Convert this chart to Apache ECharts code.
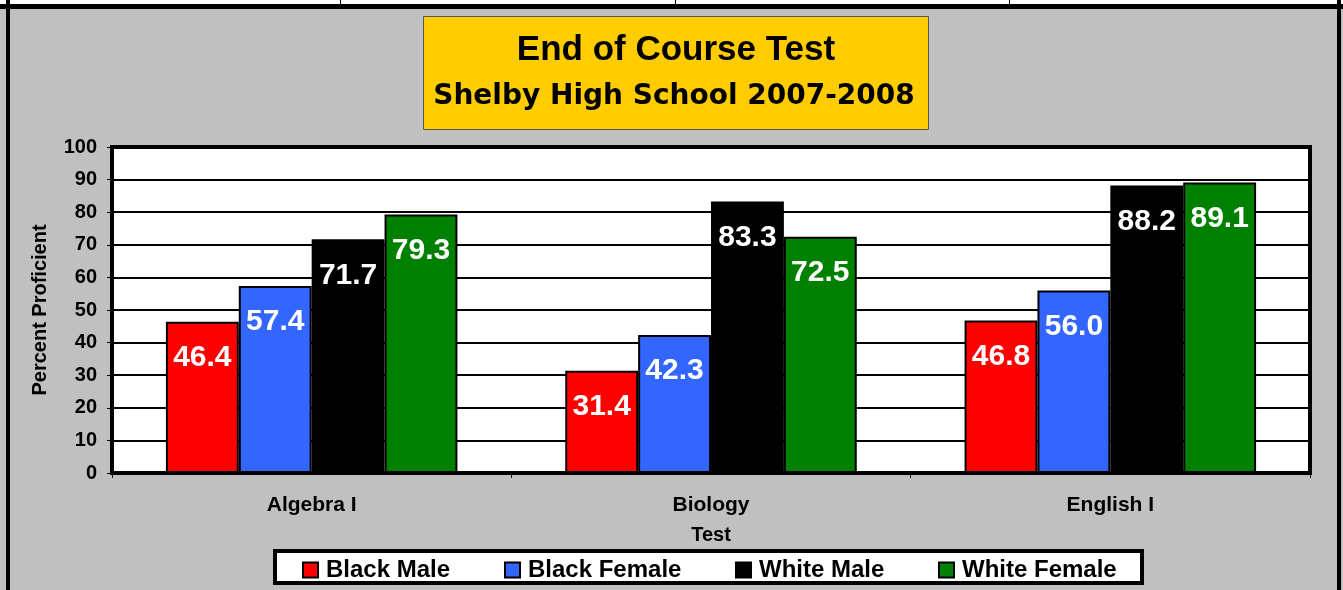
<!DOCTYPE html>
<html>
<head>
<meta charset="utf-8">
<script src="https://cdn.jsdelivr.net/npm/echarts@6/dist/echarts.min.js"></script>
<style>html,body{margin:0;padding:0;background:#fff;}#c{width:1343px;height:590px;}</style>
</head>
<body>
<div id="c"></div>
<script>
const categories = ['Algebra I', 'Biology', 'English I'];
const blackMale = [46.4, 31.4, 46.8];
const blackFemale = [57.4, 42.3, 56.0];
const whiteMale = [71.7, 83.3, 88.2];
const whiteFemale = [79.3, 72.5, 89.1];
const seriesNames = ['Black Male', 'Black Female', 'White Male', 'White Female'];
const seriesColors = ['#FF0000', '#3366FF', '#000000', '#008000'];
const seriesData = [blackMale, blackFemale, whiteMale, whiteFemale];

const FONT = '"Liberation Sans", Arial, sans-serif';
const chart = echarts.init(document.getElementById('c'), null, {renderer: 'canvas'});

const legendLefts = [302, 504, 735, 938];

const option = {
  backgroundColor: '#C0C0C0',
  animation: false,
  title: [
    {text: 'End of Course Test', left: 676, top: 50, textAlign: 'center', textVerticalAlign: 'middle', padding: 0,
     textStyle: {fontFamily: FONT, fontWeight: 'bold', fontSize: 35, color: '#000'}},
    {text: 'Shelby High School 2007-2008', left: 674, top: 97, textAlign: 'center', textVerticalAlign: 'middle', padding: 0,
     textStyle: {fontFamily: '"Comic Sans MS", "DejaVu Sans", sans-serif', fontWeight: 'bold', fontSize: 28, color: '#000'}}
  ],
  graphic: [
    {type: 'rect', z: 0, shape: {x: 0, y: 0, width: 1343, height: 4}, style: {fill: '#fff'}},
    {type: 'rect', z: 0, shape: {x: 0, y: 4, width: 1343, height: 5}, style: {fill: '#000'}},
    {type: 'rect', z: 0, shape: {x: 6, y: 0, width: 4, height: 590}, style: {fill: '#000'}},
    {type: 'rect', z: 0, shape: {x: 1337, y: 0, width: 4, height: 590}, style: {fill: '#000'}},
    {type: 'rect', z: 0, shape: {x: 340, y: 0, width: 1, height: 4}, style: {fill: '#000'}},
    {type: 'rect', z: 0, shape: {x: 675, y: 0, width: 1, height: 4}, style: {fill: '#000'}},
    {type: 'rect', z: 0, shape: {x: 1009, y: 0, width: 1, height: 4}, style: {fill: '#000'}},
    {type: 'rect', z: 0, shape: {x: 423.5, y: 16.5, width: 505, height: 113}, style: {fill: '#FFCC00', stroke: '#555', lineWidth: 1}},
    {type: 'rect', z: 0, shape: {x: 275, y: 551, width: 867, height: 32}, style: {fill: '#fff', stroke: '#000', lineWidth: 4}}
  ],
  legend: seriesNames.map((n, i) => ({
    data: [n], left: legendLefts[i], top: 558, padding: 0,
    icon: 'rect', itemWidth: 15, itemHeight: 15, itemGap: 0,
    textStyle: {fontFamily: FONT, fontWeight: 'bold', fontSize: 24, color: '#000', padding: [0, 0, 0, 3]}
  })),
  grid: {left: 112, right: 33, top: 147, bottom: 117, show: true, backgroundColor: '#fff', borderColor: '#000', borderWidth: 4},
  xAxis: {
    type: 'category', data: categories,
    name: 'Test', nameLocation: 'middle', nameGap: 52,
    nameTextStyle: {fontFamily: FONT, fontWeight: 'bold', fontSize: 20, color: '#000'},
    axisLine: {show: true, lineStyle: {color: '#000', width: 4}},
    axisTick: {show: true, length: 5, lineStyle: {color: '#000', width: 1}},
    axisLabel: {margin: 22, fontFamily: FONT, fontWeight: 'bold', fontSize: 21, color: '#000'}
  },
  yAxis: {
    type: 'value', min: 0, max: 100, interval: 10,
    name: 'Percent Proficient', nameLocation: 'middle', nameGap: 62,
    nameTextStyle: {fontFamily: FONT, fontWeight: 'bold', fontSize: 20, color: '#000'},
    axisLine: {show: true, lineStyle: {color: '#000', width: 4}},
    axisTick: {show: true, length: 5, lineStyle: {color: '#000', width: 1}},
    axisLabel: {margin: 15, fontFamily: FONT, fontWeight: 'bold', fontSize: 20, color: '#000'},
    splitLine: {show: true, lineStyle: {color: '#000', width: 2}}
  },
  series: seriesNames.map((n, i) => ({
    name: n, type: 'bar', data: seriesData[i],
    barGap: '0%', barCategoryGap: '27%',
    itemStyle: {color: seriesColors[i], borderColor: '#000', borderWidth: 2},
    label: {show: true, position: 'insideTop', distance: 21, color: '#fff', fontFamily: FONT, fontWeight: 'bold', fontSize: 30,
            formatter: p => p.value.toFixed(1)}
  }))
};
chart.setOption(option);
</script>
</body>
</html>
